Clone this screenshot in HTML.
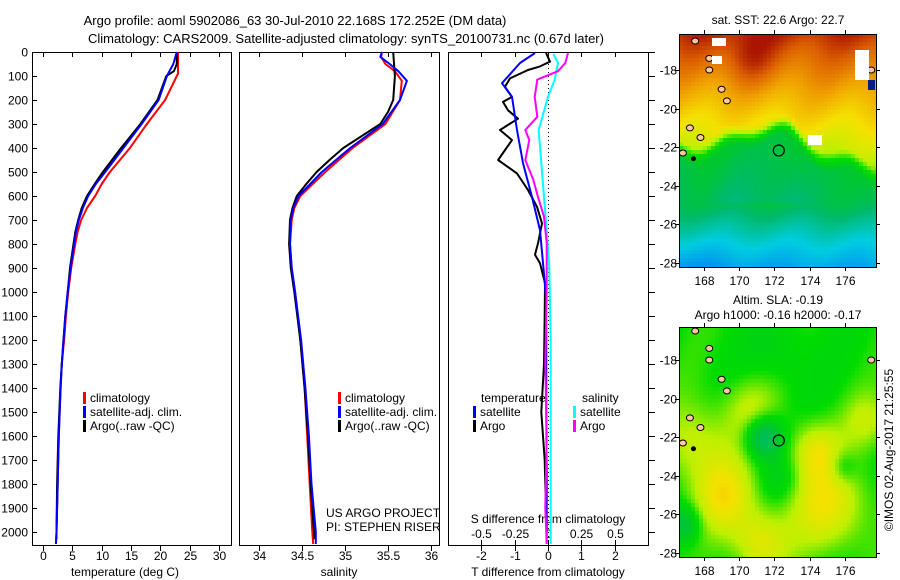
<!DOCTYPE html>
<html><head><meta charset="utf-8">
<style>
html,body{margin:0;padding:0;background:#fff;}
svg{display:block;font-family:"Liberation Sans",sans-serif;font-size:12px;}
</style></head>
<body>
<svg id="fig" width="900" height="580" viewBox="0 0 900 580" xmlns="http://www.w3.org/2000/svg">
<text x="295" y="25" text-anchor="middle" font-size="13">Argo profile: aoml 5902086_63 30-Jul-2010 22.168S 172.252E (DM data)</text>
<text x="346" y="43" text-anchor="middle" font-size="13">Climatology: CARS2009. Satellite-adjusted climatology: synTS_20100731.nc (0.67d later)</text>
<g id="axes"></g>
<g id="marks"></g>
<g id="maps"></g>
<text transform="translate(893,450) rotate(-90)" text-anchor="middle" font-size="12">©IMOS 02-Aug-2017 21:25:55</text>
</svg>
<script>
// ---- data ----
const depthTempClim = [0,50,90,200,300,400,500,550,600,650,700,750,800,900,1000,1100,1200,1300,1400,1600,1800,2000,2050];
const tempClim = [23,23,23,20.8,17.7,14.8,11.4,10.0,8.9,7.5,6.5,5.9,5.5,4.8,4.3,3.9,3.6,3.2,3.0,2.7,2.5,2.3,2.2];
const depthTempSat = [0,50,100,200,300,400,500,550,600,650,700,750,800,900,1000,1100,1200,1300,1400,1600,1800,2000,2050];
const tempSat = [22.8,22.2,21.1,19.7,16.8,13.7,10.6,9.0,7.7,6.8,6.1,5.6,5.3,4.7,4.2,3.8,3.5,3.2,3.0,2.7,2.5,2.3,2.2];
const depthTempArgo = [0,50,80,100,200,300,400,500,550,600,650,700,750,800,900,1000,1100,1200,1300,1400,1600,1800,2000,2030];
const tempArgo = [22.8,22.8,22.3,21,19.5,16.6,13.3,10.2,8.8,7.5,6.6,6.0,5.5,5.2,4.6,4.2,3.8,3.5,3.2,2.95,2.6,2.4,2.3,2.3];

const depthSal = [0,20,50,80,120,200,300,400,500,600,650,700,800,900,1000,1200,1400,1600,1800,2000,2050];
const salClim = [35.43,35.42,35.47,35.58,35.66,35.64,35.47,35.09,34.77,34.48,34.41,34.38,34.36,34.38,34.42,34.48,34.53,34.56,34.59,34.62,34.63];
const salSat = [35.43,35.41,35.52,35.62,35.72,35.64,35.44,35.06,34.73,34.46,34.40,34.37,34.36,34.38,34.42,34.49,34.54,34.58,34.61,34.66,34.66];
const depthSalArgo = [0,100,200,250,300,400,450,500,550,600,650,700,800,900,1000,1200,1400,1600,1800,2000,2030];
const salArgo = [35.56,35.58,35.56,35.5,35.41,34.98,34.82,34.67,34.55,34.44,34.39,34.36,34.35,34.37,34.41,34.48,34.53,34.57,34.6,34.64,34.64];

const depthDT = [4,46,130,187,325,463,604,742,879,1021,1200,1500,1800,2050];
const dTSat = [-0.39,-0.84,-1.38,-1.08,-0.93,-0.75,-0.48,-0.24,-0.15,-0.06,-0.05,-0.05,-0.04,-0.04];
const depthDTArgo = [4,40,60,75,110,145,187,208,243,278,325,367,450,506,575,645,714,797,845,880,963,1100,1300,1500,1600,1700,1800,1950];
const dTArgo = [-0.06,0.06,-0.24,-0.6,-1.14,-1.29,-1.08,-1.35,-1.2,-0.9,-1.44,-1.08,-1.5,-0.93,-0.6,-0.33,-0.18,-0.3,-0.39,-0.24,-0.09,-0.1,-0.12,-0.2,-0.15,-0.1,-0.08,-0.05];
const depthDS = [8,46,115,187,325,463,604,742,900,1200,1600,2050];
const dSSat = [0.04,0.075,0.05,0.0,-0.07,-0.05,-0.03,-0.01,0.01,0.02,0.02,0.02];
const depthDSArgo = [4,46,80,115,187,270,325,367,450,533,604,686,797,1000,1300,1600,1900,2050];
const dSArgo = [0.15,0.13,0.075,-0.08,-0.1,-0.08,-0.17,-0.14,-0.17,-0.11,-0.075,-0.03,-0.01,-0.01,-0.02,-0.01,-0.02,-0.01];

const depthTicks = [0,100,200,300,400,500,600,700,800,900,1000,1100,1200,1300,1400,1500,1600,1700,1800,1900,2000];
const tempTicks = [0,5,10,15,20,25,30];
const salTicks = [34,34.5,35,35.5,36];
const dTTicks = [-2,-1,0,1,2];
const dSTicks = [-0.5,-0.25,0,0.25,0.5];
const latTicks = [-18,-20,-22,-24,-26,-28];
const lonTicks = [168,170,172,174,176];

// ---- scales ----
const yD = d => 52 + d*0.24;
const xT = t => 43 + t*5.87;
const xS = s => 259 + (s-34)*86;
const xDT = v => 548 + v*33.3;
const xDS = v => 548 + v*133.3;

const NS = "http://www.w3.org/2000/svg";
function mk(tag, attrs, parent, text){
  const e = document.createElementNS(NS, tag);
  for (const k in attrs) e.setAttribute(k, attrs[k]);
  if (text !== undefined) e.textContent = text;
  parent.appendChild(e);
  return e;
}
const axes = document.getElementById('axes');
const marks = document.getElementById('marks');
const maps = document.getElementById('maps');

const panels = [[32,231,'temperature-panel'],[239,439,'salinity-panel'],[448,648,'difference-panel']];
panels.forEach(p => {
  const r = mk('rect',{x:p[0]+0.5,y:52.5,width:p[1]-p[0],height:493,fill:'none',stroke:'#000','stroke-width':1},axes);
  
  
});
depthTicks.forEach(d => {
  const y = Math.round(yD(d))+0.5;
  const t = mk('text',{x:28,y:y+4,'text-anchor':'end'},axes,String(d));
  
  
  mk('line',{x1:32,x2:37,y1:y,y2:y,stroke:'#000'},axes);
  mk('line',{x1:648,x2:655,y1:y,y2:y,stroke:'#000'},axes);
});
function xticks(vals, fx, labY, labFmt, name, top){
  vals.forEach(v => {
    const x = Math.round(fx(v))+0.5;
    mk('line',{x1:x,x2:x,y1:545,y2:551,stroke:'#000'},axes);
    if (top) mk('line',{x1:x,x2:x,y1:52,y2:57,stroke:'#000'},axes);
    const t = mk('text',{x:x,y:labY,'text-anchor':'middle'},axes,labFmt(v));
    
    
  });
}
xticks(tempTicks, xT, 560, v=>String(v), 'temperature-tick-label', true);
xticks(salTicks, xS, 560, v=>String(v), 'salinity-tick-label', true);
xticks(dTTicks, xDT, 560, v=>String(v), 't-diff-tick-label', true);
dSTicks.forEach(v => {
  const x = Math.round(xDS(v))+0.5;
  mk('line',{x1:x,x2:x,y1:540,y2:545,stroke:'#000'},axes);
  const t = mk('text',{x:x,y:538,'text-anchor':'middle'},axes,String(v));
  
  
});
function label(x,y,txt,name,anchor){
  const t = mk('text',{x:x,y:y,'text-anchor':anchor||'middle'},axes,txt);
  
  
  return t;
}
label(125,576,'temperature (deg C)','temperature-axis-title');
label(339,576,'salinity','salinity-axis-title');
label(548,576,'T difference from climatology','t-diff-axis-title');
label(548,523,'S difference from climatology','s-diff-axis-title');
label(326,517,'US ARGO PROJECT','project-note','start');
label(326,531,'PI: STEPHEN RISER','pi-note','start');
mk('line',{x1:548.5,x2:548.5,y1:52,y2:545,stroke:'#000','stroke-dasharray':'1,3'},axes);

function line(xs, ds, fx, color, name, w){
  const pts = xs.map((v,i) => fx(v).toFixed(1)+','+yD(ds[i]).toFixed(1)).join(' ');
  const l = mk('polyline',{points:pts,fill:'none',stroke:color,'stroke-width':w||2,'stroke-linejoin':'round'},marks);
  
  
}
line(tempClim, depthTempClim, xT, '#ff0000', 'temp-climatology-line');
line(tempArgo, depthTempArgo, xT, '#000000', 'temp-argo-line');
line(tempSat, depthTempSat, xT, '#0000ff', 'temp-satellite-line');
line(salClim, depthSal, xS, '#ff0000', 'sal-climatology-line');
line(salArgo, depthSalArgo, xS, '#000000', 'sal-argo-line');
line(salSat, depthSal, xS, '#0000ff', 'sal-satellite-line');
line(dTArgo, depthDTArgo, xDT, '#000000', 'tdiff-argo-line');
line(dTSat, depthDT, xDT, '#0000ff', 'tdiff-satellite-line');
line(dSSat, depthDS, xDS, '#00ffff', 'sdiff-satellite-line');
line(dSArgo, depthDSArgo, xDS, '#ff00ff', 'sdiff-argo-line');

function leg(x,y,color,txt,name){
  mk('rect',{x:x,y:y-10,width:3,height:12,fill:color},axes);
  const t = mk('text',{x:x+7,y:y},axes,txt);
  
  
}
[[83,'temp'],[338,'sal']].forEach(([x,n]) => {
  leg(x,402,'#ff0000','climatology',n+'-legend-climatology');
  leg(x,416,'#0000ff','satellite-adj. clim.',n+'-legend-satellite');
  leg(x,430,'#000000','Argo(..raw -QC)',n+'-legend-argo');
});
label(481,402,'temperature','diff-legend-temperature-header','start');
label(582,402,'salinity','diff-legend-salinity-header','start');
leg(473,416,'#0000ff','satellite','diff-legend-t-satellite');
leg(473,430,'#000000','Argo','diff-legend-t-argo');
leg(573,416,'#00ffff','satellite','diff-legend-s-satellite');
leg(573,430,'#ff00ff','Argo','diff-legend-s-argo');

// ---- maps ----
const cstops = [[0,[0,40,190]],[0.15,[0,140,240]],[0.3,[0,205,225]],[0.42,[0,185,110]],[0.52,[0,200,40]],[0.6,[0,220,0]],[0.68,[190,240,0]],[0.76,[245,225,0]],[0.85,[240,160,0]],[0.93,[220,95,0]],[1,[170,20,0]]];
function cmap(v){
  v = Math.max(0,Math.min(1,v));
  for (let i=1;i<cstops.length;i++){
    if (v<=cstops[i][0]){
      const a=cstops[i-1], b=cstops[i], f=(v-a[0])/(b[0]-a[0]);
      return 'rgb('+a[1].map((c,k)=>Math.round(c+(b[1][k]-c)*f)).join(',')+')';
    }
  }
  return 'rgb(170,20,0)';
}
const g = (s,t,cs,ct,r) => Math.exp(-((s-cs)*(s-cs)+(t-ct)*(t-ct))/(r*r));
function sstField(s,t){
  const tb = 0.45 + 0.1*Math.max(0,s-0.55)/0.45 - 0.1*g(s,0,0.45,0,0.2) + 0.03*Math.sin(s*20);
  let v;
  if (t < tb) v = 0.97 - 0.55*t;
  else if (t < tb+0.08) v = 0.97 - 0.55*tb - (t-tb)/0.08*(0.97-0.55*tb-0.5);
  else if (t < 0.72) v = 0.5 - (t-tb-0.08)*0.3;
  else v = 0.46 - (t-0.72)*0.9;
  v -= 0.1*Math.max(0,t-0.85)*Math.max(0,1-s*2)*3;
  v += 0.06*g(s,t,0.35,0.1,0.12);
  v += 0.02*Math.sin(s*17+t*9);
  return v;
}
function slaField(s,t){
  let v = 0.6;
  v += 0.14*g(s,t,0.22,0.73,0.16) + 0.14*g(s,t,0.75,0.77,0.2) + 0.13*g(s,t,0.4,0.93,0.14);
  v += 0.12*g(s,t,0.68,0.53,0.13) + 0.1*g(s,t,0.08,0.5,0.18) + 0.08*g(s,t,0.35,0.35,0.14) + 0.08*g(s,t,0.95,0.4,0.12);
  v -= 0.2*g(s,t,0.42,0.47,0.09) + 0.05*g(s,t,0.5,0.65,0.1) + 0.08*g(s,t,0.82,0.6,0.07);
  v -= 0.12*g(s,t,0.02,0.85,0.08) + 0.04*g(s,t,0.5,0.1,0.15);
  v += 0.02*Math.sin(s*13+t*7);
  return v;
}
function drawMap(x0,y0,w,h,field,name,y18){
  const grp = mk('g',{},maps);
  
  
  const c=4;
  for (let yy=0; yy<h; yy+=c){
    for (let xx=0; xx<w; xx+=c){
      mk('rect',{x:x0+xx,y:y0+yy,width:Math.min(c,w-xx),height:Math.min(c,h-yy),fill:cmap(field(xx/w,yy/h))},grp);
    }
  }
  const lonX = lon => 704 + (lon-168)*17.6;
  const latY = lat => y18 + (-18-lat)*19.3;
  [[167.5,-16.5],[168.3,-17.4],[168.3,-18],[169,-19],[169.3,-19.6],[167.2,-21],[167.8,-21.5],[166.8,-22.3],[177.5,-18]].forEach(p=>{
    mk('ellipse',{cx:lonX(p[0]),cy:latY(p[1]),rx:3.5,ry:3,fill:'#ffc8a0',stroke:'#000','stroke-width':1},grp);
  });
  mk('circle',{cx:lonX(167.4),cy:latY(-22.6),r:2.5,fill:'#000'},grp);
  const m = mk('circle',{cx:lonX(172.25),cy:latY(-22.17),r:5.5,fill:'none',stroke:'#000','stroke-width':1.2},grp);
  
  
  mk('rect',{x:x0+0.5,y:y0+0.5,width:w,height:h,fill:'none',stroke:'#000'},grp);
  latTicks.forEach(lat => {
    const y = Math.round(latY(lat))+0.5;
    mk('line',{x1:x0-4,x2:x0,y1:y,y2:y,stroke:'#000'},grp);
    mk('line',{x1:x0+w,x2:x0+w+4,y1:y,y2:y,stroke:'#000'},grp);
    const t = mk('text',{x:x0-2,y:y+4,'text-anchor':'end'},grp,String(lat));
    
    
  });
  lonTicks.forEach(lon => {
    const x = Math.round(lonX(lon))+0.5;
    mk('line',{x1:x,x2:x,y1:y0-4,y2:y0,stroke:'#000'},grp);
    mk('line',{x1:x,x2:x,y1:y0+h,y2:y0+h+4,stroke:'#000'},grp);
    const t = mk('text',{x:x,y:y0+h+18,'text-anchor':'middle'},grp,String(lon));
    
    
  });
}
drawMap(679,34,197,233,sstField,'sst-map',70);
drawMap(679,327,197,230,slaField,'sla-map',360);
[[712,38,14,8],[712,56,10,8],[808,135,14,10],[855,50,14,30]].forEach(r=>mk('rect',{x:r[0],y:r[1],width:r[2],height:r[3],fill:'#fff'},maps));
mk('rect',{x:868,y:80,width:7,height:10,fill:'#0a1a80'},maps);
label(778,24,'sat. SST: 22.6 Argo: 22.7','sst-map-title');
label(778,304,'Altim. SLA: -0.19','sla-map-title');
label(778,319,'Argo h1000: -0.16 h2000: -0.17','sla-map-subtitle');
</script>
</body></html>
